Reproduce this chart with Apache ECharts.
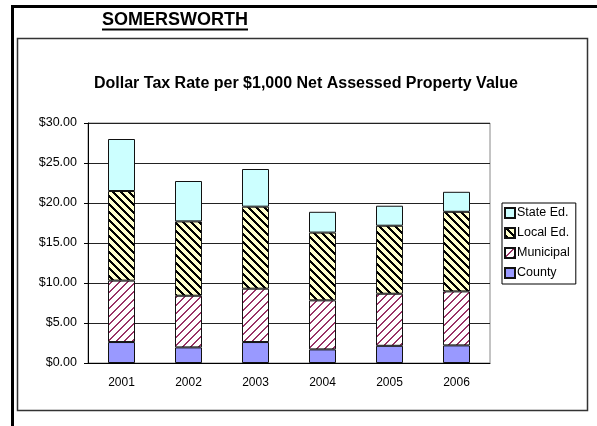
<!DOCTYPE html>
<html>
<head>
<meta charset="utf-8">
<script src="https://cdn.jsdelivr.net/npm/echarts/dist/echarts.min.js"></script>
<style>
  html, body { margin: 0; padding: 0; background: #fff; }
  #main { width: 597px; height: 426px; }
</style>
</head>
<body>
<div id="main"></div>
<script>
// 数据
const years = ['2001', '2002', '2003', '2004', '2005', '2006'];
const county = [2.62, 1.95, 2.62, 1.70, 2.15, 2.20];
const municipal = [7.68, 6.46, 6.67, 6.13, 6.51, 6.75];
const localEd = [11.20, 9.29, 10.25, 8.47, 8.50, 9.95];
const stateEd = [6.50, 5.05, 4.71, 2.60, 2.50, 2.50];
const legendNames = ['State Ed.', 'Local Ed.', 'Municipal', 'County'];

// 斜线填充（类似 Excel 的图案）
function stripes(bg, fg, dir, w) {
  const c = document.createElement('canvas');
  c.width = 8; c.height = 8;
  const ctx = c.getContext('2d');
  ctx.fillStyle = bg;
  ctx.fillRect(0, 0, 8, 8);
  ctx.fillStyle = fg;
  for (let x = 0; x < 8; x++) {
    for (let y = 0; y < 8; y++) {
      const v = dir > 0 ? (x + y) % 8 : ((x - y) % 8 + 8) % 8;
      if (v < w) ctx.fillRect(x, y, 1, 1);
    }
  }
  return { image: c, repeat: 'repeat' };
}

const font = 'Liberation Sans, Arial, sans-serif';
const myChart = echarts.init(document.getElementById('main'));

function bar(name, data, color) {
  return {
    name: name,
    type: 'bar',
    stack: 'tax',
    barWidth: 27,
    data: data,
    itemStyle: { color: color, borderColor: '#111', borderWidth: 1 },
    emphasis: { disabled: true }
  };
}

let option = {
  animation: false,
  backgroundColor: '#fff',
  title: {
    text: 'Dollar Tax Rate per $1,000 Net Assessed Property Value',
    left: 89,
    top: 71,
    textStyle: { fontFamily: font, fontSize: 16, fontWeight: 'bold', color: '#000' }
  },
  legend: {
    data: legendNames,
    orient: 'vertical',
    left: 502,
    top: 203,
    padding: [3, 6, 4, 2],
    itemGap: 6,
    itemWidth: 10,
    itemHeight: 10,
    icon: 'rect',
    borderColor: '#000',
    borderWidth: 1,
    textStyle: { fontFamily: font, fontSize: 12.5, lineHeight: 14, color: '#000', padding: [0, 0, 0, -3] }
  },
  grid: {
    left: 88, right: 107, top: 123, bottom: 63,
    show: true, borderColor: '#888', borderWidth: 1
  },
  xAxis: {
    type: 'category',
    data: years,
    axisLine: { lineStyle: { color: '#000', width: 1 } },
    axisTick: { length: 4, lineStyle: { color: '#000' } },
    axisLabel: { fontFamily: font, fontSize: 12, color: '#000', margin: 14 }
  },
  yAxis: {
    type: 'value',
    min: 0, max: 30, interval: 5,
    axisLine: { show: true, lineStyle: { color: '#000', width: 1 } },
    axisTick: { show: true, length: 4, lineStyle: { color: '#000' } },
    splitLine: { lineStyle: { color: '#222', width: 1 } },
    axisLabel: {
      fontFamily: font, fontSize: 12.5, color: '#000', margin: 11,
      formatter: v => '$' + v.toFixed(2)
    }
  },
  series: [
    bar('County', county, '#9999ff'),
    bar('Municipal', municipal, stripes('#ffffff', '#993366', 1, 2)),
    bar('Local Ed.', localEd, stripes('#ffffcc', '#000000', -1, 3)),
    bar('State Ed.', stateEd, '#ccffff')
  ],
  graphic: [
    { type: 'line', shape: { x1: 11, y1: 6.5, x2: 597, y2: 6.5 }, style: { stroke: '#000', lineWidth: 3 } },
    { type: 'line', shape: { x1: 12.5, y1: 5, x2: 12.5, y2: 426 }, style: { stroke: '#000', lineWidth: 3 } },
    { type: 'rect', shape: { x: 17.5, y: 38.5, width: 570, height: 372 }, style: { fill: 'none', stroke: '#333', lineWidth: 1.5 }, z: -1 },
    {
      type: 'text', left: 102, top: 11,
      style: { text: 'SOMERSWORTH', font: 'bold 18px ' + font, fill: '#000' }
    },
    { type: 'line', shape: { x1: 102, y1: 29.5, x2: 248, y2: 29.5 }, style: { stroke: '#000', lineWidth: 2 } }
  ]
};

myChart.setOption(option);
</script>
</body>
</html>
